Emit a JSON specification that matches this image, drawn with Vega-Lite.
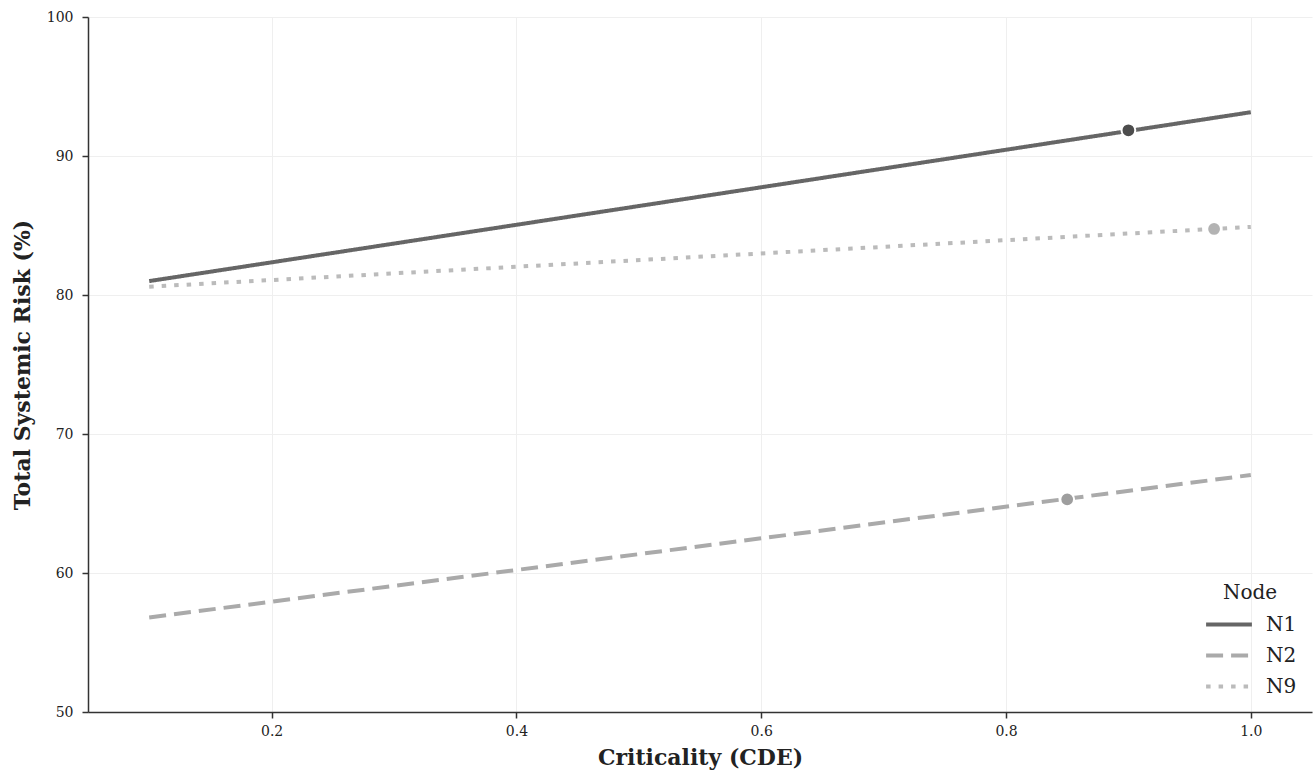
{
  "$schema": "https://vega.github.io/schema/vega-lite/v6.json",
  "autosize": {"type": "none"},
  "padding": {"left": 88, "top": 17, "right": 2, "bottom": 63},
  "width": 1224,
  "height": 695,
  "background": "white",
  "config": {
    "font": "DejaVu Serif",
    "view": {"stroke": null},
    "axis": {
      "labelFont": "DejaVu Serif",
      "titleFont": "DejaVu Serif",
      "labelFontSize": 14,
      "labelColor": "#222",
      "titleFontSize": 22,
      "titleFontWeight": "bold",
      "titleColor": "#222",
      "domainColor": "#333",
      "domainWidth": 1.5,
      "tickColor": "#333",
      "tickWidth": 1.5,
      "tickSize": 6,
      "gridColor": "#efefef",
      "gridWidth": 1
    },
    "legend": {
      "titleFont": "DejaVu Serif",
      "labelFont": "DejaVu Serif"
    }
  },
  "datasets": {
    "lines": [
      {"node": "N1", "cde": 0.1, "risk": 81.0},
      {"node": "N1", "cde": 1.0, "risk": 93.15},
      {"node": "N2", "cde": 0.1, "risk": 56.8},
      {"node": "N2", "cde": 1.0, "risk": 67.05},
      {"node": "N9", "cde": 0.1, "risk": 80.6},
      {"node": "N9", "cde": 1.0, "risk": 84.9}
    ],
    "points": [
      {"node": "N1", "cde": 0.9, "risk": 91.85},
      {"node": "N2", "cde": 0.85, "risk": 65.3},
      {"node": "N9", "cde": 0.97, "risk": 84.75}
    ]
  },
  "layer": [
    {
      "data": {"name": "lines"},
      "mark": {"type": "line", "strokeWidth": 4, "strokeCap": "butt"},
      "encoding": {
        "x": {
          "field": "cde", "type": "quantitative",
          "scale": {"domain": [0.05, 1.05], "nice": false, "zero": false},
          "axis": {"title": "Criticality (CDE)", "values": [0.2, 0.4, 0.6, 0.8, 1.0], "format": ".1f", "labelPadding": 6, "titlePadding": 9}
        },
        "y": {
          "field": "risk", "type": "quantitative",
          "scale": {"domain": [50, 100], "nice": false, "zero": false},
          "axis": {"title": "Total Systemic Risk (%)", "values": [50, 60, 70, 80, 90, 100], "labelPadding": 9, "titlePadding": 12}
        },
        "stroke": {
          "field": "node", "type": "nominal",
          "scale": {"domain": ["N1", "N2", "N9"], "range": ["#666666", "#aaaaaa", "#bbbbbb"]},
          "legend": {
            "title": "Node",
            "orient": "none",
            "legendX": 1110,
            "legendY": 560,
            "titleFontSize": 20,
            "titleFontWeight": "normal",
            "titleColor": "#222",
            "titleAnchor": "middle",
            "titleAlign": "center",
            "titlePadding": 9,
            "labelFontSize": 20,
            "labelColor": "#222",
            "symbolType": "stroke",
            "symbolStrokeWidth": 4,
            "symbolSize": 2100,
            "clipHeight": 25,
            "rowPadding": 6,
            "labelOffset": 12,
            "padding": 6
          }
        },
        "strokeDash": {
          "field": "node", "type": "nominal",
          "scale": {"domain": ["N1", "N2", "N9"], "range": [[1, 0], [17, 8], [4.5, 8]]},
          "legend": {
            "title": "Node",
            "orient": "none",
            "legendX": 1110,
            "legendY": 560,
            "titleFontSize": 20,
            "titleFontWeight": "normal",
            "titleColor": "#222",
            "titleAnchor": "middle",
            "titleAlign": "center",
            "titlePadding": 9,
            "labelFontSize": 20,
            "labelColor": "#222",
            "symbolType": "stroke",
            "symbolStrokeWidth": 4,
            "symbolSize": 2100,
            "clipHeight": 25,
            "rowPadding": 6,
            "labelOffset": 12,
            "padding": 6
          }
        }
      }
    },
    {
      "data": {"name": "points"},
      "mark": {"type": "point", "shape": "circle", "filled": true, "size": 190, "stroke": "white", "strokeWidth": 2, "opacity": 1},
      "encoding": {
        "x": {"field": "cde", "type": "quantitative"},
        "y": {"field": "risk", "type": "quantitative"},
        "fill": {
          "field": "node", "type": "nominal",
          "scale": {"domain": ["N1", "N2", "N9"], "range": ["#4d4d4d", "#9e9e9e", "#b3b3b3"]},
          "legend": null
        }
      }
    }
  ]
}
